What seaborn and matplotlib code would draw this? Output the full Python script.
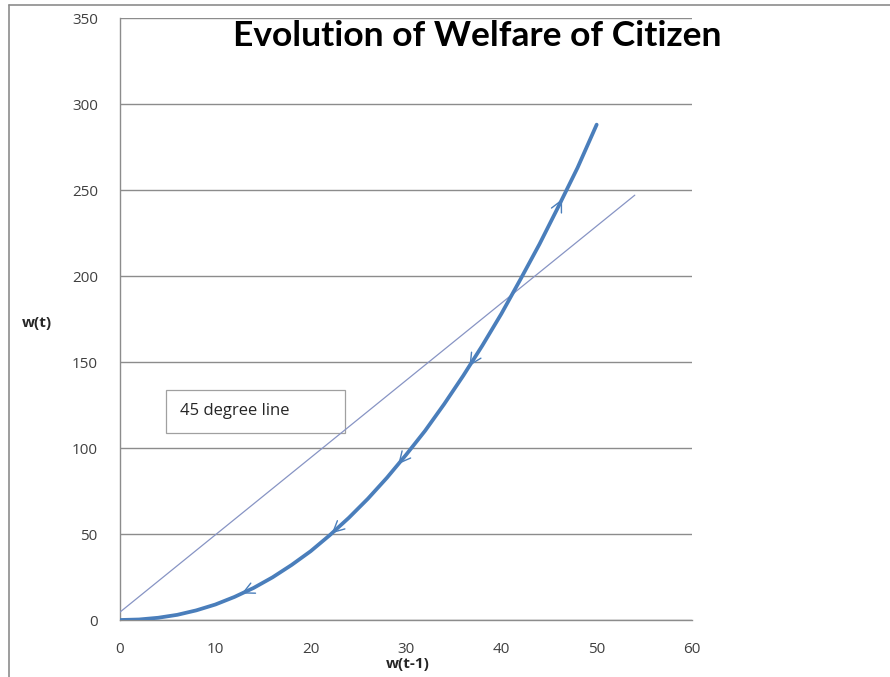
import numpy as np
import pandas as pd
import matplotlib
matplotlib.use("Agg")
import matplotlib.pyplot as plt
from matplotlib.lines import Line2D
from matplotlib.patches import Rectangle
import seaborn as sns

# ── Data ─────────────────────────────────────────────────────────────────────
w_prev = [0, 2, 4, 6, 8, 10, 12, 14, 16, 18, 20, 22, 24, 26, 28, 30,
          32, 34, 36, 38, 40, 42, 44, 46, 48, 50]
w_now = [0, 0.3, 1.3, 3, 5.6, 9, 13.4, 18.6, 24.8, 32, 40, 49.3, 59.4,
         70.5, 82.7, 96, 110, 125.5, 142, 159.5, 178, 198, 218.5, 240.5,
         263, 288]

ref_x = [0, 54]
ref_y = [4.6, 247]

arrow_x = [12.5, 22, 29, 36.5, 46.5]
arrow_dir = [-1, -1, -1, -1, 1]   # -1: moving down the curve, 1: up

title = "Evolution of Welfare of Citizen"
box_label = "45 degree line"

# ── Style ────────────────────────────────────────────────────────────────────
sns.set_style("white")
plt.rcParams["font.family"] = ["Open Sans", "DejaVu Sans"]

curve_color = "#4a7ebb"
ref_color = "#8794c4"
grid_color = "#8c8c8c"
tick_color = "#404040"

fig = plt.figure(figsize=(8.9, 6.77), dpi=100)
ax = fig.add_axes([120 / 890, 1 - 620 / 677, 572 / 890, 602 / 677])

df_curve = pd.DataFrame({"x": w_prev, "y": w_now})
df_ref = pd.DataFrame({"x": ref_x, "y": ref_y})

sns.lineplot(data=df_ref, x="x", y="y", ax=ax, color=ref_color, lw=0.9,
             zorder=3)
sns.lineplot(data=df_curve, x="x", y="y", ax=ax, color=curve_color, lw=2.7,
             zorder=4, solid_joinstyle="round", solid_capstyle="round")

# small open arrowheads along the curve
for xa, d in zip(arrow_x, arrow_dir):
    ya = np.interp(xa, w_prev, w_now)
    xb = xa - d * 0.6
    yb = np.interp(xb, w_prev, w_now)
    ax.annotate("", xy=(xa, ya), xytext=(xb, yb),
                arrowprops=dict(arrowstyle="->,head_length=0.8,head_width=0.4",
                                color=curve_color, lw=1.0),
                zorder=5)

ax.set_xlim(0, 60)
ax.set_ylim(0, 350)
ax.set_xticks(range(0, 61, 10))
ax.set_yticks(range(0, 351, 50))
ax.set_xlabel("")
ax.set_ylabel("")

ax.grid(axis="y", color=grid_color, lw=1.0)
ax.grid(axis="x", visible=False)
ax.set_axisbelow(True)
for s in ["top", "right"]:
    ax.spines[s].set_visible(False)
for s in ["left", "bottom"]:
    ax.spines[s].set_color(grid_color)
    ax.spines[s].set_linewidth(1.0)

ax.tick_params(axis="both", direction="out", length=5, width=1,
               color=grid_color, labelcolor=tick_color, labelsize=11)
ax.tick_params(axis="y", pad=11)
ax.tick_params(axis="x", pad=11)

# text box
ax.add_patch(Rectangle((4.8, 109), 18.8, 24.5, facecolor="white",
                       edgecolor="#a0a0a0", lw=0.9, zorder=2))
ax.text(6.3, 121.5, box_label, fontsize=12, color="#262626",
        va="center", ha="left", zorder=3)

# title and axis labels
fig.text(477 / 890, 1 - 36 / 677, title, ha="center", va="center",
         fontsize=25.5, fontweight="bold", family=["Lato", "DejaVu Sans"],
         color="black")
fig.text(37 / 890, 1 - 323 / 677, "w(t)", ha="center", va="center",
         fontsize=11, fontweight="bold", color="#262626")
fig.text(408 / 890, 1 - 664 / 677, "w(t-1)", ha="center", va="center",
         fontsize=11, fontweight="bold", color="#262626")

# outer frame (left and top only)
frame_color = "#8c8c8c"
fig.add_artist(Line2D([9 / 890, 9 / 890], [0, 1 - 5 / 677],
                      transform=fig.transFigure, color=frame_color, lw=1.2))
fig.add_artist(Line2D([9 / 890, 1], [1 - 5 / 677, 1 - 5 / 677],
                      transform=fig.transFigure, color=frame_color, lw=1.2))

fig.savefig("out.png", dpi=100, facecolor="white")
plt.close(fig)
